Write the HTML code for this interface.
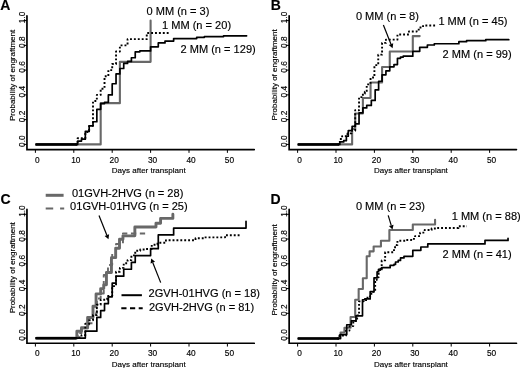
<!DOCTYPE html>
<html><head><meta charset="utf-8"><style>
html,body{margin:0;padding:0;background:#fff;}
body{width:520px;height:368px;overflow:hidden;}
svg{display:block;filter:grayscale(1) blur(0.3px);}
text{font-family:"Liberation Sans",sans-serif;fill:#000;stroke:#000;stroke-width:0.15px;}
</style></head><body>
<svg width="520" height="368" viewBox="0 0 520 368">
<rect width="520" height="368" fill="#fff"/>
<text x="0.35" y="10.0" font-size="14.0" font-weight="bold">A</text>
<text x="270.7" y="10.1" font-size="14.0" font-weight="bold">B</text>
<text x="0.54" y="203.9" font-size="14.0" font-weight="bold">C</text>
<text x="270.6" y="203.9" font-size="14.0" font-weight="bold">D</text>
<path d="M26.95,15.75 L26.95,149.55 L254.25,149.55" fill="none" stroke="#000" stroke-width="1.7" stroke-linejoin="miter" stroke-linecap="round"/>
<line x1="26.95" y1="144.40" x2="23.55" y2="144.40" stroke="#000" stroke-width="1"/>
<text transform="translate(24.80,141.20) rotate(-90)" text-anchor="middle" font-size="8.3">0.0</text>
<line x1="26.95" y1="119.64" x2="23.55" y2="119.64" stroke="#000" stroke-width="1"/>
<text transform="translate(24.80,116.44) rotate(-90)" text-anchor="middle" font-size="8.3">0.2</text>
<line x1="26.95" y1="94.88" x2="23.55" y2="94.88" stroke="#000" stroke-width="1"/>
<text transform="translate(24.80,91.68) rotate(-90)" text-anchor="middle" font-size="8.3">0.4</text>
<line x1="26.95" y1="70.12" x2="23.55" y2="70.12" stroke="#000" stroke-width="1"/>
<text transform="translate(24.80,66.92) rotate(-90)" text-anchor="middle" font-size="8.3">0.6</text>
<line x1="26.95" y1="45.36" x2="23.55" y2="45.36" stroke="#000" stroke-width="1"/>
<text transform="translate(24.80,42.16) rotate(-90)" text-anchor="middle" font-size="8.3">0.8</text>
<line x1="26.95" y1="20.60" x2="23.55" y2="20.60" stroke="#000" stroke-width="1"/>
<text transform="translate(24.80,17.40) rotate(-90)" text-anchor="middle" font-size="8.3">1.0</text>
<line x1="35.40" y1="149.55" x2="35.40" y2="152.85" stroke="#000" stroke-width="1"/>
<text x="37.40" y="162.60" text-anchor="middle" font-size="8.3">0</text>
<line x1="73.80" y1="149.55" x2="73.80" y2="152.85" stroke="#000" stroke-width="1"/>
<text x="75.80" y="162.60" text-anchor="middle" font-size="8.3">10</text>
<line x1="112.20" y1="149.55" x2="112.20" y2="152.85" stroke="#000" stroke-width="1"/>
<text x="114.20" y="162.60" text-anchor="middle" font-size="8.3">20</text>
<line x1="150.60" y1="149.55" x2="150.60" y2="152.85" stroke="#000" stroke-width="1"/>
<text x="152.60" y="162.60" text-anchor="middle" font-size="8.3">30</text>
<line x1="189.00" y1="149.55" x2="189.00" y2="152.85" stroke="#000" stroke-width="1"/>
<text x="191.00" y="162.60" text-anchor="middle" font-size="8.3">40</text>
<line x1="227.40" y1="149.55" x2="227.40" y2="152.85" stroke="#000" stroke-width="1"/>
<text x="229.40" y="162.60" text-anchor="middle" font-size="8.3">50</text>
<text x="111.80" y="172.90" font-size="8.0">Days after transplant</text>
<text transform="translate(14.60,75.40) rotate(-90)" text-anchor="middle" font-size="8.0">Probability of engraftment</text>
<path d="M289.15,15.75 L289.15,149.55 L516.45,149.55" fill="none" stroke="#000" stroke-width="1.7" stroke-linejoin="miter" stroke-linecap="round"/>
<line x1="289.15" y1="144.40" x2="285.75" y2="144.40" stroke="#000" stroke-width="1"/>
<text transform="translate(287.00,141.20) rotate(-90)" text-anchor="middle" font-size="8.3">0.0</text>
<line x1="289.15" y1="119.64" x2="285.75" y2="119.64" stroke="#000" stroke-width="1"/>
<text transform="translate(287.00,116.44) rotate(-90)" text-anchor="middle" font-size="8.3">0.2</text>
<line x1="289.15" y1="94.88" x2="285.75" y2="94.88" stroke="#000" stroke-width="1"/>
<text transform="translate(287.00,91.68) rotate(-90)" text-anchor="middle" font-size="8.3">0.4</text>
<line x1="289.15" y1="70.12" x2="285.75" y2="70.12" stroke="#000" stroke-width="1"/>
<text transform="translate(287.00,66.92) rotate(-90)" text-anchor="middle" font-size="8.3">0.6</text>
<line x1="289.15" y1="45.36" x2="285.75" y2="45.36" stroke="#000" stroke-width="1"/>
<text transform="translate(287.00,42.16) rotate(-90)" text-anchor="middle" font-size="8.3">0.8</text>
<line x1="289.15" y1="20.60" x2="285.75" y2="20.60" stroke="#000" stroke-width="1"/>
<text transform="translate(287.00,17.40) rotate(-90)" text-anchor="middle" font-size="8.3">1.0</text>
<line x1="297.60" y1="149.55" x2="297.60" y2="152.85" stroke="#000" stroke-width="1"/>
<text x="299.60" y="162.60" text-anchor="middle" font-size="8.3">0</text>
<line x1="336.00" y1="149.55" x2="336.00" y2="152.85" stroke="#000" stroke-width="1"/>
<text x="338.00" y="162.60" text-anchor="middle" font-size="8.3">10</text>
<line x1="374.40" y1="149.55" x2="374.40" y2="152.85" stroke="#000" stroke-width="1"/>
<text x="376.40" y="162.60" text-anchor="middle" font-size="8.3">20</text>
<line x1="412.80" y1="149.55" x2="412.80" y2="152.85" stroke="#000" stroke-width="1"/>
<text x="414.80" y="162.60" text-anchor="middle" font-size="8.3">30</text>
<line x1="451.20" y1="149.55" x2="451.20" y2="152.85" stroke="#000" stroke-width="1"/>
<text x="453.20" y="162.60" text-anchor="middle" font-size="8.3">40</text>
<line x1="489.60" y1="149.55" x2="489.60" y2="152.85" stroke="#000" stroke-width="1"/>
<text x="491.60" y="162.60" text-anchor="middle" font-size="8.3">50</text>
<text x="374.00" y="172.90" font-size="8.0">Days after transplant</text>
<text transform="translate(276.80,74.85) rotate(-90)" text-anchor="middle" font-size="8.0">Probability of engraftment</text>
<path d="M26.95,209.45 L26.95,343.25 L254.25,343.25" fill="none" stroke="#000" stroke-width="1.7" stroke-linejoin="miter" stroke-linecap="round"/>
<line x1="26.95" y1="338.10" x2="23.55" y2="338.10" stroke="#000" stroke-width="1"/>
<text transform="translate(24.80,334.90) rotate(-90)" text-anchor="middle" font-size="8.3">0.0</text>
<line x1="26.95" y1="313.34" x2="23.55" y2="313.34" stroke="#000" stroke-width="1"/>
<text transform="translate(24.80,310.14) rotate(-90)" text-anchor="middle" font-size="8.3">0.2</text>
<line x1="26.95" y1="288.58" x2="23.55" y2="288.58" stroke="#000" stroke-width="1"/>
<text transform="translate(24.80,285.38) rotate(-90)" text-anchor="middle" font-size="8.3">0.4</text>
<line x1="26.95" y1="263.82" x2="23.55" y2="263.82" stroke="#000" stroke-width="1"/>
<text transform="translate(24.80,260.62) rotate(-90)" text-anchor="middle" font-size="8.3">0.6</text>
<line x1="26.95" y1="239.06" x2="23.55" y2="239.06" stroke="#000" stroke-width="1"/>
<text transform="translate(24.80,235.86) rotate(-90)" text-anchor="middle" font-size="8.3">0.8</text>
<line x1="26.95" y1="214.30" x2="23.55" y2="214.30" stroke="#000" stroke-width="1"/>
<text transform="translate(24.80,211.10) rotate(-90)" text-anchor="middle" font-size="8.3">1.0</text>
<line x1="35.40" y1="343.25" x2="35.40" y2="346.55" stroke="#000" stroke-width="1"/>
<text x="37.40" y="356.30" text-anchor="middle" font-size="8.3">0</text>
<line x1="73.80" y1="343.25" x2="73.80" y2="346.55" stroke="#000" stroke-width="1"/>
<text x="75.80" y="356.30" text-anchor="middle" font-size="8.3">10</text>
<line x1="112.20" y1="343.25" x2="112.20" y2="346.55" stroke="#000" stroke-width="1"/>
<text x="114.20" y="356.30" text-anchor="middle" font-size="8.3">20</text>
<line x1="150.60" y1="343.25" x2="150.60" y2="346.55" stroke="#000" stroke-width="1"/>
<text x="152.60" y="356.30" text-anchor="middle" font-size="8.3">30</text>
<line x1="189.00" y1="343.25" x2="189.00" y2="346.55" stroke="#000" stroke-width="1"/>
<text x="191.00" y="356.30" text-anchor="middle" font-size="8.3">40</text>
<line x1="227.40" y1="343.25" x2="227.40" y2="346.55" stroke="#000" stroke-width="1"/>
<text x="229.40" y="356.30" text-anchor="middle" font-size="8.3">50</text>
<text x="111.80" y="366.60" font-size="8.0">Days after transplant</text>
<text transform="translate(14.60,267.75) rotate(-90)" text-anchor="middle" font-size="8.0">Probability of engraftment</text>
<path d="M289.15,209.45 L289.15,343.25 L516.45,343.25" fill="none" stroke="#000" stroke-width="1.7" stroke-linejoin="miter" stroke-linecap="round"/>
<line x1="289.15" y1="338.10" x2="285.75" y2="338.10" stroke="#000" stroke-width="1"/>
<text transform="translate(287.00,334.90) rotate(-90)" text-anchor="middle" font-size="8.3">0.0</text>
<line x1="289.15" y1="313.34" x2="285.75" y2="313.34" stroke="#000" stroke-width="1"/>
<text transform="translate(287.00,310.14) rotate(-90)" text-anchor="middle" font-size="8.3">0.2</text>
<line x1="289.15" y1="288.58" x2="285.75" y2="288.58" stroke="#000" stroke-width="1"/>
<text transform="translate(287.00,285.38) rotate(-90)" text-anchor="middle" font-size="8.3">0.4</text>
<line x1="289.15" y1="263.82" x2="285.75" y2="263.82" stroke="#000" stroke-width="1"/>
<text transform="translate(287.00,260.62) rotate(-90)" text-anchor="middle" font-size="8.3">0.6</text>
<line x1="289.15" y1="239.06" x2="285.75" y2="239.06" stroke="#000" stroke-width="1"/>
<text transform="translate(287.00,235.86) rotate(-90)" text-anchor="middle" font-size="8.3">0.8</text>
<line x1="289.15" y1="214.30" x2="285.75" y2="214.30" stroke="#000" stroke-width="1"/>
<text transform="translate(287.00,211.10) rotate(-90)" text-anchor="middle" font-size="8.3">1.0</text>
<line x1="297.60" y1="343.25" x2="297.60" y2="346.55" stroke="#000" stroke-width="1"/>
<text x="299.60" y="356.30" text-anchor="middle" font-size="8.3">0</text>
<line x1="336.00" y1="343.25" x2="336.00" y2="346.55" stroke="#000" stroke-width="1"/>
<text x="338.00" y="356.30" text-anchor="middle" font-size="8.3">10</text>
<line x1="374.40" y1="343.25" x2="374.40" y2="346.55" stroke="#000" stroke-width="1"/>
<text x="376.40" y="356.30" text-anchor="middle" font-size="8.3">20</text>
<line x1="412.80" y1="343.25" x2="412.80" y2="346.55" stroke="#000" stroke-width="1"/>
<text x="414.80" y="356.30" text-anchor="middle" font-size="8.3">30</text>
<line x1="451.20" y1="343.25" x2="451.20" y2="346.55" stroke="#000" stroke-width="1"/>
<text x="453.20" y="356.30" text-anchor="middle" font-size="8.3">40</text>
<line x1="489.60" y1="343.25" x2="489.60" y2="346.55" stroke="#000" stroke-width="1"/>
<text x="491.60" y="356.30" text-anchor="middle" font-size="8.3">50</text>
<text x="374.00" y="366.60" font-size="8.0">Days after transplant</text>
<text transform="translate(276.80,269.95) rotate(-90)" text-anchor="middle" font-size="8.0">Probability of engraftment</text>
<path d="M36.45,144.40 L100.68,144.40 L100.68,103.13 L119.88,103.13 L119.88,61.87 L150.60,61.87 L150.60,20.60 L150.60,20.60" fill="none" stroke="#686868" stroke-width="2.1" stroke-linejoin="round" stroke-linecap="round"/>
<path d="M75.34,144.40 L77.64,144.40 L77.64,138.21 L85.32,138.21 L85.32,132.02 L89.16,132.02 L89.16,125.83 L93.00,125.83 L93.00,101.07 L96.84,101.07 L96.84,94.88 L100.68,94.88 L100.68,88.69 L104.52,88.69 L104.52,76.31 L108.36,76.31 L108.36,70.12 L112.20,70.12 L112.20,63.93 L116.04,63.93 L116.04,51.55 L119.88,51.55 L119.88,45.36 L127.56,45.36 L127.56,39.17 L146.76,39.17 L146.76,32.98 L169.80,32.98" fill="none" stroke="#000" stroke-width="1.9" stroke-dasharray="1.9 2.0" stroke-linejoin="round" stroke-linecap="butt"/>
<path d="M36.25,144.40 L77.64,144.40 L77.64,141.06 L81.48,141.06 L81.48,139.20 L85.32,139.20 L85.32,131.40 L89.16,131.40 L89.16,125.83 L93.00,125.83 L93.00,121.74 L96.84,121.74 L96.84,109.36 L100.68,109.36 L100.68,103.55 L104.52,103.55 L104.52,102.31 L108.36,102.31 L108.36,94.88 L112.20,94.88 L112.20,83.74 L116.04,83.74 L116.04,73.96 L119.88,73.96 L119.88,68.51 L123.72,68.51 L123.72,63.43 L127.56,63.43 L127.56,61.45 L131.40,61.45 L131.40,57.74 L135.24,57.74 L135.24,51.80 L139.85,51.80 L139.85,50.93 L150.60,50.93 L150.60,46.85 L158.28,46.85 L158.28,42.88 L165.00,42.88 L165.00,41.03 L173.64,41.03 L173.64,38.55 L196.68,38.55 L196.68,37.31 L204.36,37.31 L204.36,36.57 L223.56,36.57 L223.56,35.83 L246.60,35.83" fill="none" stroke="#000" stroke-width="1.7" stroke-linejoin="round" stroke-linecap="round"/>
<line x1="35.40" y1="144.40" x2="77.26" y2="144.40" stroke="#000" stroke-width="2.5"/>
<text x="146.50" y="15.00" font-size="11.05">0 MM (n = 3)</text>
<text x="162.00" y="28.80" font-size="11.05">1 MM (n = 20)</text>
<text x="180.50" y="52.90" font-size="11.05">2 MM (n = 129)</text>
<path d="M298.65,144.40 L352.13,144.40 L352.13,128.93 L355.20,128.93 L355.20,113.45 L362.88,113.45 L362.88,97.98 L370.56,97.98 L370.56,82.50 L382.08,82.50 L382.08,67.03 L389.76,67.03 L389.76,51.55 L412.80,51.55 L412.80,36.08 L419.71,36.08" fill="none" stroke="#686868" stroke-width="2.1" stroke-linejoin="round" stroke-linecap="round"/>
<path d="M337.54,144.40 L339.84,144.40 L339.84,138.95 L342.14,138.95 L342.14,136.11 L347.52,136.11 L347.52,133.38 L351.36,133.38 L351.36,130.66 L355.20,130.66 L355.20,110.23 L359.04,110.23 L359.04,97.11 L362.88,97.11 L362.88,93.64 L364.80,93.64 L364.80,91.79 L366.72,91.79 L366.72,84.36 L370.56,84.36 L370.56,77.55 L374.40,77.55 L374.40,65.17 L378.24,65.17 L378.24,54.65 L382.08,54.65 L382.08,42.88 L385.92,42.88 L385.92,39.67 L397.44,39.67 L397.44,34.47 L408.96,34.47 L408.96,31.49 L416.64,31.49 L416.64,29.64 L420.48,29.64 L420.48,26.17 L424.32,26.17 L424.32,25.55 L436.99,25.55" fill="none" stroke="#000" stroke-width="1.9" stroke-dasharray="1.9 2.0" stroke-linejoin="round" stroke-linecap="butt"/>
<path d="M298.45,144.40 L339.84,144.40 L339.84,141.92 L343.68,141.92 L343.68,140.69 L346.37,140.69 L346.37,136.23 L348.29,136.23 L348.29,130.53 L352.13,130.53 L352.13,126.33 L355.20,126.33 L355.20,123.97 L359.04,123.97 L359.04,112.83 L362.88,112.83 L362.88,107.88 L366.72,107.88 L366.72,105.40 L371.33,105.40 L371.33,100.45 L375.17,100.45 L375.17,89.93 L378.62,89.93 L378.62,81.26 L382.08,81.26 L382.08,74.82 L385.92,74.82 L385.92,70.86 L389.76,70.86 L389.76,66.78 L393.98,66.78 L393.98,64.55 L397.44,64.55 L397.44,58.36 L400.51,58.36 L400.51,57.12 L403.20,57.12 L403.20,56.13 L412.80,56.13 L412.80,51.30 L419.71,51.30 L419.71,47.34 L427.39,47.34 L427.39,44.99 L434.30,44.99 L434.30,43.75 L458.88,43.75 L458.88,41.65 L466.56,41.65 L466.56,40.66 L485.76,40.66 L485.76,39.67 L508.80,39.67" fill="none" stroke="#000" stroke-width="1.7" stroke-linejoin="round" stroke-linecap="round"/>
<line x1="297.60" y1="144.40" x2="339.07" y2="144.40" stroke="#000" stroke-width="2.5"/>
<text x="355.90" y="19.60" font-size="11.05">0 MM (n = 8)</text>
<text x="438.40" y="24.90" font-size="11.05">1 MM (n = 45)</text>
<text x="442.60" y="57.80" font-size="11.05">2 MM (n = 99)</text>
<line x1="383.40" y1="25.00" x2="390.98" y2="44.21" stroke="#000" stroke-width="1.2"/>
<path d="M392.60,48.30 L388.75,45.09 L393.22,43.33 Z" fill="#000"/>
<path d="M75.34,338.10 L77.64,338.10 L77.64,333.15 L81.48,333.15 L81.48,328.20 L89.16,328.20 L89.16,323.24 L93.00,323.24 L93.00,313.34 L96.84,313.34 L96.84,298.48 L100.68,298.48 L100.68,293.53 L103.75,293.53 L103.75,274.96 L107.98,274.96 L107.98,265.06 L112.20,265.06 L112.20,253.92 L116.04,253.92 L116.04,244.01 L122.95,244.01 L122.95,233.49 L145.61,233.49" fill="none" stroke="#686868" stroke-width="1.9" stroke-dasharray="5.3 3.6" stroke-linejoin="round" stroke-linecap="butt"/>
<path d="M36.85,338.10 L76.87,338.10 L76.87,331.29 L81.48,331.29 L81.48,327.70 L87.62,327.70 L87.62,317.43 L93.00,317.43 L93.00,306.28 L96.07,306.28 L96.07,293.90 L100.68,293.90 L100.68,288.58 L103.75,288.58 L103.75,284.87 L106.44,284.87 L106.44,272.49 L111.43,272.49 L111.43,257.63 L115.66,257.63 L115.66,248.22 L119.50,248.22 L119.50,239.31 L122.95,239.31 L122.95,235.84 L134.86,235.84 L134.86,227.05 L155.98,227.05 L155.98,223.21 L160.58,223.21 L160.58,218.39 L172.87,218.39 L172.87,214.30 L172.87,214.30" fill="none" stroke="#686868" stroke-width="2.9" stroke-linejoin="round" stroke-linecap="round"/>
<path d="M75.34,338.10 L77.64,338.10 L77.64,337.36 L81.48,337.36 L81.48,335.13 L85.32,335.13 L85.32,323.74 L89.16,323.74 L89.16,320.27 L93.00,320.27 L93.00,315.07 L96.84,315.07 L96.84,304.67 L100.68,304.67 L100.68,299.72 L107.21,299.72 L107.21,296.01 L112.20,296.01 L112.20,286.10 L116.04,286.10 L116.04,271.74 L119.88,271.74 L119.88,267.91 L123.72,267.91 L123.72,263.20 L127.56,263.20 L127.56,260.11 L131.40,260.11 L131.40,255.40 L135.24,255.40 L135.24,250.82 L140.23,250.82 L140.23,249.46 L144.84,249.46 L144.84,248.96 L151.75,248.96 L151.75,244.75 L157.51,244.75 L157.51,242.77 L165.96,242.77 L165.96,240.30 L195.53,240.30 L195.53,238.32 L203.98,238.32 L203.98,237.33 L225.10,237.33 L225.10,235.22 L239.69,235.22" fill="none" stroke="#000" stroke-width="1.9" stroke-dasharray="1.9 2.0" stroke-linejoin="round" stroke-linecap="butt"/>
<path d="M36.25,338.10 L85.32,338.10 L85.32,331.17 L96.84,331.17 L96.84,317.43 L100.68,317.43 L100.68,310.62 L104.52,310.62 L104.52,303.68 L108.36,303.68 L108.36,296.87 L112.20,296.87 L112.20,283.13 L116.04,283.13 L116.04,276.20 L123.72,276.20 L123.72,269.27 L131.40,269.27 L131.40,262.46 L135.24,262.46 L135.24,255.53 L150.60,255.53 L150.60,248.72 L158.28,248.72 L158.28,234.97 L173.64,234.97 L173.64,228.04 L246.02,228.04 L246.02,221.23 L246.02,221.23" fill="none" stroke="#000" stroke-width="1.7" stroke-linejoin="round" stroke-linecap="round"/>
<line x1="35.40" y1="338.30" x2="76.49" y2="338.30" stroke="#000" stroke-width="2.5"/>
<line x1="45.7" y1="195.3" x2="63.6" y2="195.3" stroke="#686868" stroke-width="3"/>
<line x1="45.7" y1="208.6" x2="64.2" y2="208.6" stroke="#686868" stroke-width="2" stroke-dasharray="7.5 6.9"/>
<line x1="121.5" y1="295.2" x2="141.9" y2="295.2" stroke="#000" stroke-width="2"/>
<line x1="121.3" y1="308.2" x2="142.7" y2="308.2" stroke="#000" stroke-width="2" stroke-dasharray="5.2 3.5"/>
<text x="71.90" y="196.90" font-size="11.05">01GVH-2HVG (n = 28)</text>
<text x="70.10" y="210.20" font-size="11.05">01GVH-01HVG (n = 25)</text>
<text x="148.60" y="297.20" font-size="11.05">2GVH-01HVG (n = 18)</text>
<text x="148.90" y="310.60" font-size="11.05">2GVH-2HVG (n = 81)</text>
<line x1="99.00" y1="215.50" x2="106.87" y2="235.21" stroke="#000" stroke-width="1.2"/>
<path d="M108.50,239.30 L104.64,236.10 L109.10,234.32 Z" fill="#000"/>
<line x1="160.70" y1="282.60" x2="152.82" y2="262.69" stroke="#000" stroke-width="1.2"/>
<path d="M151.20,258.60 L155.05,261.81 L150.59,263.57 Z" fill="#000"/>
<path d="M298.65,338.50 L340.61,338.50 L340.61,332.56 L344.45,332.56 L344.45,327.73 L350.59,327.73 L350.59,316.96 L355.20,316.96 L355.20,299.75 L358.66,299.75 L358.66,288.98 L362.88,288.98 L362.88,278.21 L366.72,278.21 L366.72,256.30 L369.60,256.30 L369.60,251.34 L373.63,251.34 L373.63,246.52 L380.93,246.52 L380.93,240.82 L389.38,240.82 L389.38,230.05 L412.80,230.05 L412.80,224.48 L435.07,224.48 L435.07,219.78 L435.07,219.78" fill="none" stroke="#686868" stroke-width="2.1" stroke-linejoin="round" stroke-linecap="round"/>
<path d="M337.15,338.50 L339.46,338.50 L339.46,335.53 L345.98,335.53 L345.98,330.58 L349.44,330.58 L349.44,326.12 L353.28,326.12 L353.28,321.17 L357.12,321.17 L357.12,315.35 L359.04,315.35 L359.04,301.36 L363.65,301.36 L363.65,300.12 L367.49,300.12 L367.49,296.41 L371.33,296.41 L371.33,291.83 L375.17,291.83 L375.17,280.07 L376.70,280.07 L376.70,277.22 L378.62,277.22 L378.62,269.42 L381.70,269.42 L381.70,260.38 L385.15,260.38 L385.15,252.21 L393.98,252.21 L393.98,247.26 L396.67,247.26 L396.67,244.91 L397.44,244.91 L397.44,240.82 L407.04,240.82 L407.04,239.96 L411.26,239.96 L411.26,238.84 L415.10,238.84 L415.10,236.12 L420.10,236.12 L420.10,232.65 L424.70,232.65 L424.70,230.05 L431.62,230.05 L431.62,228.57 L436.99,228.57 L436.99,227.95 L458.50,227.95 L458.50,226.21 L466.94,226.21" fill="none" stroke="#000" stroke-width="1.9" stroke-dasharray="1.9 2.0" stroke-linejoin="round" stroke-linecap="butt"/>
<path d="M298.45,338.50 L340.22,338.50 L340.22,334.54 L346.75,334.54 L346.75,324.76 L351.36,324.76 L351.36,320.80 L355.97,320.80 L355.97,315.84 L362.50,315.84 L362.50,299.75 L364.80,299.75 L364.80,298.88 L370.18,298.88 L370.18,291.70 L374.02,291.70 L374.02,277.84 L377.09,277.84 L377.09,271.77 L378.62,271.77 L378.62,270.16 L380.16,270.16 L380.16,268.55 L381.70,268.55 L381.70,267.69 L390.14,267.69 L390.14,265.33 L393.98,265.33 L393.98,264.47 L395.52,264.47 L395.52,261.99 L398.21,261.99 L398.21,260.38 L400.51,260.38 L400.51,257.91 L403.97,257.91 L403.97,256.30 L412.80,256.30 L412.80,250.35 L420.86,250.35 L420.86,247.01 L427.78,247.01 L427.78,243.92 L484.99,243.92 L484.99,240.45 L508.03,240.45 L508.03,238.35 L508.03,238.35" fill="none" stroke="#000" stroke-width="1.7" stroke-linejoin="round" stroke-linecap="round"/>
<line x1="297.60" y1="338.50" x2="339.07" y2="338.50" stroke="#000" stroke-width="2.5"/>
<text x="355.90" y="210.40" font-size="11.05">0 MM (n = 23)</text>
<text x="451.70" y="219.70" font-size="11.05">1 MM (n = 88)</text>
<text x="442.60" y="257.90" font-size="11.05">2 MM (n = 41)</text>
<line x1="388.20" y1="215.30" x2="391.23" y2="225.39" stroke="#000" stroke-width="1.2"/>
<path d="M392.50,229.60 L388.93,226.08 L393.53,224.70 Z" fill="#000"/>
</svg>
</body></html>
